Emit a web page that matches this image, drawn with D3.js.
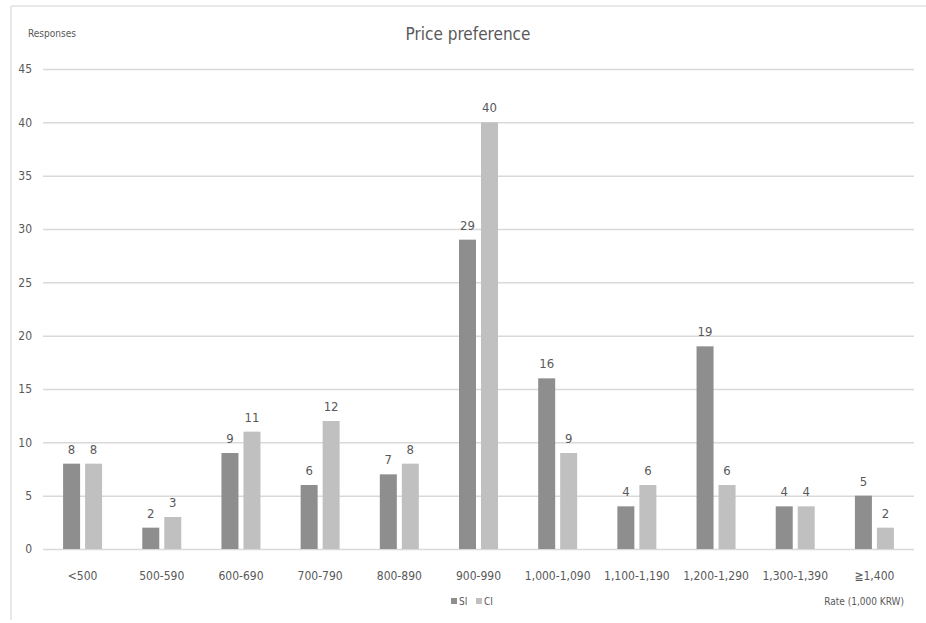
<!DOCTYPE html>
<html>
<head>
<meta charset="utf-8">
<script src="https://cdn.jsdelivr.net/npm/d3@7"></script>
<style>
  html, body { margin: 0; padding: 0; background: #fff; }
  svg { display: block; }
  text { font-family: "Liberation Sans Narrow", "DejaVu Sans Condensed", "Roboto", sans-serif; fill: #595959; }
</style>
</head>
<body>
<svg id="chart" width="926" height="623"></svg>
<script>
const categories = ["<500", "500-590", "600-690", "700-790", "800-890", "900-990", "1,000-1,090", "1,100-1,190", "1,200-1,290", "1,300-1,390", "\u22671,400"];
const seriesNames = ["SI", "CI"];
const siValues = [8, 2, 9, 6, 7, 29, 16, 4, 19, 4, 5];
const ciValues = [8, 3, 11, 12, 8, 40, 9, 6, 6, 4, 2];
const yTicks = [0, 5, 10, 15, 20, 25, 30, 35, 40, 45];
const colors = ["#8e8e8e", "#c0c0c0"];

const svg = d3.select("#chart");
const W = 926, H = 623;
const plot = { left: 43, right: 914, top: 69, bottom: 549 };

// outer frame (top and left edges)
svg.append("line").attr("x1", 11).attr("x2", W).attr("y1", 6).attr("y2", 6)
  .attr("stroke", "#e0e0e0").attr("stroke-width", 1.5);
svg.append("line").attr("x1", 11).attr("x2", 11).attr("y1", 6).attr("y2", 620)
  .attr("stroke", "#e0e0e0").attr("stroke-width", 1.5);

const x0 = d3.scaleBand().domain(categories).range([plot.left, plot.right]).padding(0);
const y = d3.scaleLinear().domain([0, 45]).range([plot.bottom, plot.top]);

// gridlines
const yAxis = d3.axisLeft(y).tickValues(yTicks).tickSize(-(plot.right - plot.left)).tickPadding(11);
const gy = svg.append("g").attr("transform", `translate(${plot.left},0)`).call(yAxis);
gy.select(".domain").remove();
gy.selectAll(".tick line").attr("stroke", "#d9d9d9").attr("stroke-width", 1.5);
gy.selectAll(".tick text").attr("font-size", 12).attr("fill", "#595959");

// x axis labels
const xAxis = d3.axisBottom(x0).tickSize(0).tickPadding(22);
const gx = svg.append("g").attr("transform", `translate(0,${plot.bottom})`).call(xAxis);
gx.select(".domain").remove();
gx.selectAll(".tick text").attr("font-size", 12).attr("fill", "#595959");

// bars
const barW = 17, gap = 5;
const data = categories.map((c, i) => ({ cat: c, vals: [siValues[i], ciValues[i]] }));
const groups = svg.append("g").selectAll("g").data(data).join("g")
  .attr("transform", d => `translate(${x0(d.cat) + x0.bandwidth() / 2},0)`);
groups.selectAll("rect").data(d => d.vals.map((v, j) => ({ v, j }))).join("rect")
  .attr("x", d => d.j === 0 ? -(barW + gap / 2) : gap / 2)
  .attr("width", barW)
  .attr("y", d => y(d.v))
  .attr("height", d => y(0) - y(d.v))
  .attr("fill", d => colors[d.j]);
groups.selectAll("text.val").data(d => d.vals.map((v, j) => ({ v, j }))).join("text")
  .attr("class", "val")
  .attr("x", d => d.j === 0 ? -(barW / 2 + gap / 2) : barW / 2 + gap / 2)
  .attr("y", d => y(d.v) - 10)
  .attr("text-anchor", "middle")
  .attr("font-size", 13)
  .attr("fill", "#404040")
  .text(d => d.v);

// title
svg.append("text").attr("x", 468).attr("y", 40).attr("text-anchor", "middle")
  .attr("font-size", 17).attr("fill", "#595959").text("Price preference");

// y axis title
svg.append("text").attr("x", 28).attr("y", 37).attr("font-size", 10)
  .attr("fill", "#404040").text("Responses");

// x axis title
svg.append("text").attr("x", 904).attr("y", 605).attr("text-anchor", "end")
  .attr("font-size", 10).attr("fill", "#404040").text("Rate (1,000 KRW)");

// legend
const legend = svg.append("g").attr("transform", "translate(451,597)");
seriesNames.forEach((s, i) => {
  const g = legend.append("g").attr("transform", `translate(${i * 25},0)`);
  g.append("rect").attr("width", 6).attr("height", 6).attr("y", 1).attr("fill", colors[i]);
  g.append("text").attr("x", 8).attr("y", 8).attr("font-size", 10).attr("fill", "#595959").text(s);
});
</script>
</body>
</html>
